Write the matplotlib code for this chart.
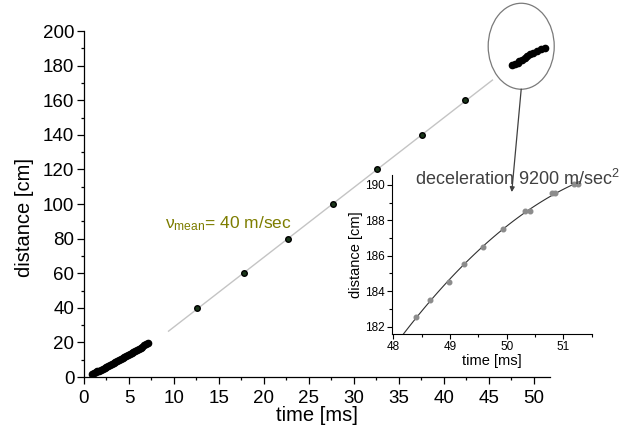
import numpy as np
import matplotlib.pyplot as plt
from matplotlib.patches import Ellipse
from matplotlib.ticker import MultipleLocator

plt.rcParams['font.family'] = ['Liberation Sans', 'DejaVu Sans']
plt.rcParams['mathtext.fontset'] = 'custom'
plt.rcParams['mathtext.rm'] = 'Liberation Sans'
plt.rcParams['mathtext.it'] = 'Liberation Sans'

# early, densely sampled part of the track
start_t = [0.9, 1.1, 1.3, 1.5, 1.7, 1.9, 2.1, 2.3, 2.5, 2.7, 2.9, 3.1, 3.3, 3.5, 3.7, 3.9,
           4.1, 4.3, 4.5, 4.7, 4.9, 5.1, 5.3, 5.5, 5.7, 5.9, 6.1, 6.3, 6.5, 6.7, 6.9, 7.1]
start_d = [1.7, 2.2, 2.7, 3.2, 3.7, 4.2, 4.7, 5.2, 5.7, 6.3, 6.8, 7.4, 7.9, 8.5, 9.0, 9.6,
           10.2, 10.8, 11.4, 12.0, 12.6, 13.2, 13.8, 14.4, 15.1, 15.7, 16.3, 17.0, 17.6, 18.3, 19.0, 19.7]

# sparse points along the straight part
mid_t = [12.6, 17.8, 22.7, 27.7, 32.6, 37.6, 42.4]
mid_d = [40, 60, 80, 100, 120, 140, 160]

# end of the track (main plot)
end_t = [47.6, 47.9, 48.2, 48.4, 48.65, 49.0, 49.25, 49.6, 49.95, 50.35, 50.8, 51.2]
end_d = [180.3, 180.8, 181.6, 182.5, 183.5, 184.5, 185.5, 186.5, 187.5, 188.5, 189.5, 190.2]

# zoomed end of the track (inset)
zoom_t = [48.40, 48.65, 48.99, 49.25, 49.59, 49.93, 50.32, 50.41, 50.80, 50.85, 51.18, 51.26]
zoom_d = [182.53, 183.5, 184.5, 185.52, 186.51, 187.51, 188.55, 188.55, 189.53, 189.53, 190.04, 190.04]

fig = plt.figure(figsize=(6.24, 4.25), dpi=100)
ax = fig.add_axes([0.1346, 0.1129, 0.7468, 0.8141])

# mean velocity fit
k, b = np.polyfit(mid_t, mid_d, 1)
fit_t = np.array([9.4, 45.4])
ax.plot(fit_t, k * fit_t + b, color='#c4c4c4', lw=1.0, zorder=1)

ax.plot(start_t, start_d, 'o', color='black', ms=4.5, zorder=3)
ax.plot(mid_t, mid_d, 'o', mfc='#1a361a', mec='black', mew=1.0, ms=4.0, zorder=3)
ax.plot(end_t, end_d, 'o', color='black', ms=4.5, zorder=3, clip_on=False)

ax.set_xlim(0, 51.8)
ax.set_ylim(0, 200)
ax.xaxis.set_major_locator(MultipleLocator(5))
ax.xaxis.set_minor_locator(MultipleLocator(2.5))
ax.yaxis.set_major_locator(MultipleLocator(20))
ax.yaxis.set_minor_locator(MultipleLocator(10))
for s in ['top', 'right']:
    ax.spines[s].set_visible(False)
for s in ['left', 'bottom']:
    ax.spines[s].set_linewidth(0.9)
ax.tick_params(which='major', length=5, width=0.9, labelsize=13.5)
ax.tick_params(axis='x', which='major', pad=4.5)
ax.tick_params(axis='y', which='major', pad=2)
ax.tick_params(which='minor', length=2.5, width=0.9)
ax.set_xlabel('time [ms]', fontsize=14.5)
ax.set_ylabel('distance [cm]', fontsize=14.5)
ax.xaxis.set_label_coords(0.5, -0.085)
ax.yaxis.set_label_coords(-0.107, 0.46)

ax.text(9.0, 86, r'$\mathregular{\nu_{mean}}$= 40 m/sec', color='#7d7d00',
        fontsize=12.5, va='baseline', ha='left')

# circle around the end of the track
ell = Ellipse((48.6, 191.2), 7.34, 49.7, fill=False, edgecolor='#7a7a7a',
              lw=0.9, clip_on=False)
ax.add_patch(ell)

# inset
axin = fig.add_axes([0.6282, 0.2141, 0.320, 0.374])
axin.set_facecolor('none')
c = np.polyfit(zoom_t, zoom_d, 2)
curve_t = np.linspace(48.17, 51.3, 100)
axin.plot(curve_t, np.polyval(c, curve_t), color='#303030', lw=0.8, zorder=2)
axin.plot(zoom_t, zoom_d, 'o', color='#8c8c8c', ms=3.3, zorder=3, clip_on=False)
axin.set_xlim(47.977, 51.5)
axin.set_ylim(181.58, 190.56)
axin.xaxis.set_major_locator(MultipleLocator(1))
axin.xaxis.set_minor_locator(MultipleLocator(0.5))
axin.yaxis.set_major_locator(MultipleLocator(2))
axin.yaxis.set_minor_locator(MultipleLocator(1))
for s in ['top', 'right']:
    axin.spines[s].set_visible(False)
for s in ['left', 'bottom']:
    axin.spines[s].set_linewidth(0.8)
axin.tick_params(which='major', length=3.5, width=0.8, labelsize=8.5, pad=1.5)
axin.tick_params(which='minor', length=2, width=0.8)
axin.set_xlabel('time [ms]', fontsize=10.5, labelpad=1)
axin.set_ylabel('distance [cm]', fontsize=10.5, labelpad=2)

fig.text(0.665, 0.5647, r'deceleration 9200 m/sec$^2$', color='#404040',
         fontsize=13, ha='left', va='baseline')

ax.annotate('', xy=(50.09, 189.6), xycoords=axin.transData,
            xytext=(48.6, 166.4), textcoords=ax.transData,
            arrowprops=dict(arrowstyle='-|>', color='#404040', lw=0.9,
                            mutation_scale=7, shrinkA=0, shrinkB=0))

fig.savefig('out.png', dpi=100)
